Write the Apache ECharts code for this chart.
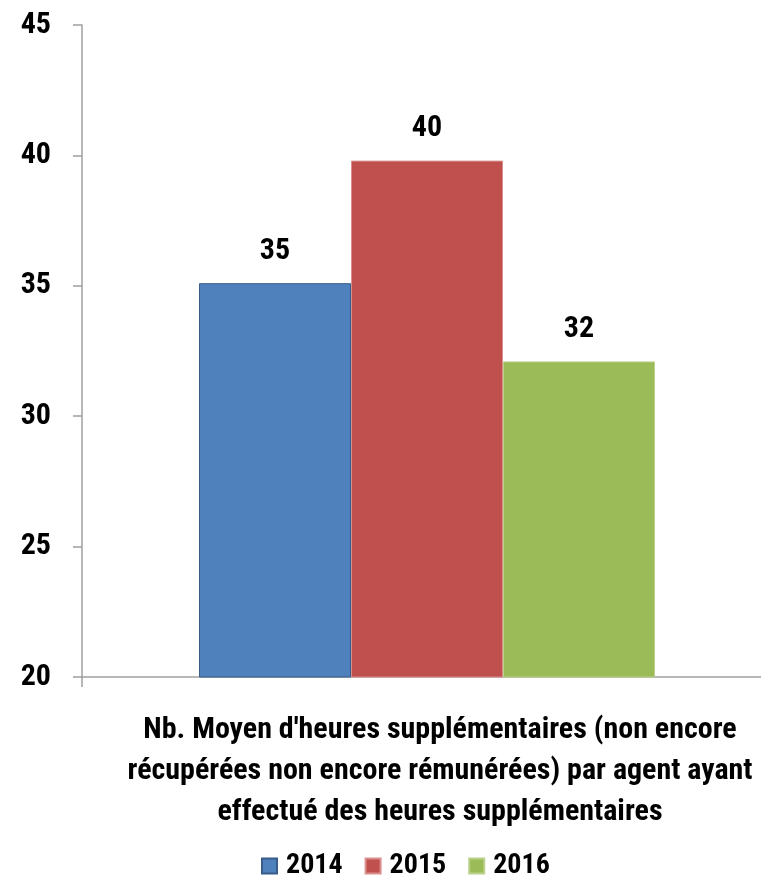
<!DOCTYPE html>
<html>
<head>
<meta charset="utf-8">
<script src="https://cdn.jsdelivr.net/npm/echarts@6/dist/echarts.min.js"></script>
<style>
  html, body { margin: 0; padding: 0; background: #fff; }
  #chart { width: 761px; height: 883px; }
</style>
</head>
<body>
<div id="chart"></div>
<script>
// data
const categories = ["Nb. Moyen d'heures supplémentaires (non encore\nrécupérées non encore rémunérées) par agent ayant\neffectué des heures supplémentaires"]
const years = ['2014', '2015', '2016']
const values2014 = [35.1]
const values2015 = [39.8]
const values2016 = [32.1]
const yTicks = [20, 25, 30, 35, 40, 45]

const font = '"Roboto Condensed", Carlito, "DejaVu Sans Condensed", sans-serif'
const colors = ['#4f81bd', '#c0504d', '#9bbb59']
const borders = ['#385d8a', '#d98f8d', '#b9d18a']

const chart = echarts.init(document.getElementById('chart'))

function barSeries(name, data, i) {
  return {
    name: name,
    type: 'bar',
    data: data,
    barWidth: 152,
    barGap: '0%',
    itemStyle: {
      color: colors[i],
      borderColor: borders[i],
      borderWidth: 1
    },
    label: {
      show: true,
      position: 'top',
      distance: 17,
      fontFamily: font,
      fontWeight: 'bold',
      fontSize: 30,
      color: '#000',
      formatter: p => Math.round(p.value)
    }
  }
}

chart.setOption({
  animation: false,
  textStyle: { fontFamily: font },
  grid: {
    left: 82,
    right: -11,
    top: 25,
    bottom: 206,
    outerBoundsMode: 'none'
  },
  legend: {
    data: years,
    top: 847,
    left: 256,
    itemWidth: 15,
    itemHeight: 15,
    itemGap: 22,
    icon: 'rect',
    textStyle: {
      fontFamily: font,
      fontWeight: 'bold',
      fontSize: 28,
      color: '#000',
      padding: [0, 0, 0, 4]
    }
  },
  xAxis: {
    type: 'category',
    data: categories,
    axisLine: { lineStyle: { color: '#a0a0a0', width: 1.5 } },
    axisTick: { show: true, length: 10, lineStyle: { color: '#a0a0a0', width: 1.5 } },
    axisLabel: {
      margin: 33,
      fontFamily: font,
      fontWeight: 'bold',
      fontSize: 30,
      lineHeight: 41,
      color: '#000',
      align: 'center',
      padding: [0, 0, 0, 26]
    }
  },
  yAxis: {
    type: 'value',
    min: yTicks[0],
    max: yTicks[yTicks.length - 1],
    interval: 5,
    axisLine: { show: true, lineStyle: { color: '#a0a0a0', width: 1.5 } },
    axisTick: { show: true, length: 9, lineStyle: { color: '#a0a0a0', width: 1.5 } },
    splitLine: { show: false },
    axisLabel: {
      margin: 31,
      fontFamily: font,
      fontWeight: 'bold',
      fontSize: 30,
      color: '#000'
    }
  },
  series: [
    barSeries(years[0], values2014, 0),
    barSeries(years[1], values2015, 1),
    barSeries(years[2], values2016, 2)
  ]
})
</script>
</body>
</html>
